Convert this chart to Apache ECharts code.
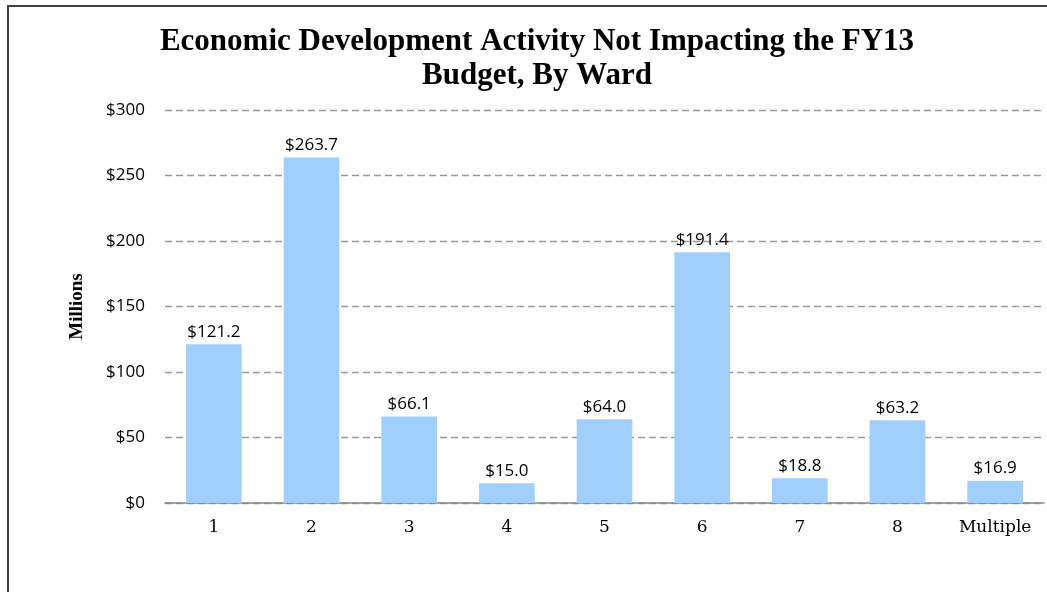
<!DOCTYPE html>
<html>
<head>
<meta charset="utf-8">
<script src="https://cdn.jsdelivr.net/npm/echarts@6/dist/echarts.min.js"></script>
<style>
  html, body { margin: 0; padding: 0; background: #fff; }
  #main { width: 1047px; height: 592px; }
</style>
</head>
<body>
<div id="main"></div>
<script>
var wards = ['1', '2', '3', '4', '5', '6', '7', '8', 'Multiple'];
var amounts = [121.2, 263.7, 66.1, 15.0, 64.0, 191.4, 18.8, 63.2, 16.9];

var myChart = echarts.init(document.getElementById('main'));
var option = {
    backgroundColor: '#fff',
    animation: false,
    title: {
        text: 'Economic Development Activity Not Impacting the FY13\nBudget, By Ward',
        left: 532,
        top: 20,
        textAlign: 'center',
        textStyle: {
            fontFamily: 'Liberation Serif',
            fontWeight: 'bold',
            fontSize: 31,
            lineHeight: 34,
            color: '#000'
        }
    },
    graphic: [{
        type: 'rect',
        shape: { x: 8, y: 6, width: 1100, height: 650 },
        style: { fill: null, stroke: '#404040', lineWidth: 2 },
        silent: true
    }],
    grid: { left: 165, right: 3, top: 110, bottom: 89 },
    xAxis: {
        type: 'category',
        data: wards,
        axisTick: { show: false },
        axisLine: { lineStyle: { color: '#868686', width: 1.5 } },
        axisLabel: {
            interval: 0,
            margin: 16,
            fontFamily: 'DejaVu Serif',
            fontSize: 17,
            color: '#000'
        }
    },
    yAxis: {
        type: 'value',
        min: 0,
        max: 300,
        interval: 50,
        name: 'Millions',
        nameLocation: 'middle',
        nameGap: 78,
        nameRotate: 90,
        nameTextStyle: {
            fontFamily: 'Liberation Serif',
            fontWeight: 'bold',
            fontSize: 19,
            color: '#000'
        },
        axisLine: { show: false },
        axisTick: { show: false },
        axisLabel: {
            margin: 20,
            fontFamily: 'Open Sans',
            fontSize: 17,
            color: '#000',
            formatter: function (v) { return '$' + v; }
        },
        splitLine: { lineStyle: { color: '#9a9a9a', type: [7, 4], width: 1.3 } }
    },
    series: [{
        type: 'bar',
        data: amounts,
        barWidth: '57%',
        itemStyle: { color: '#a0cefd' },
        label: {
            show: true,
            position: 'top',
            distance: 4,
            fontFamily: 'Open Sans',
            fontSize: 17,
            color: '#000',
            formatter: function (p) { return '$' + p.value.toFixed(1); }
        }
    }]
};
myChart.setOption(option);
</script>
</body>
</html>
